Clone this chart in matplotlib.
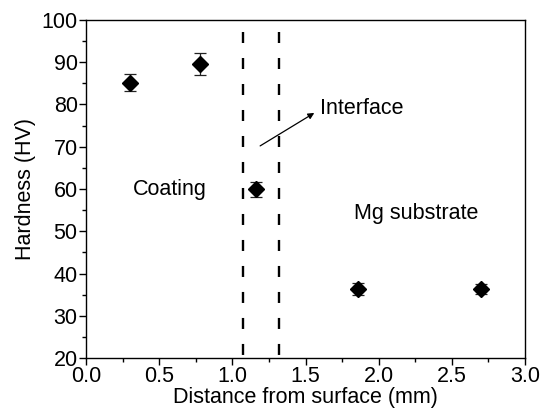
import numpy as np
import matplotlib.pyplot as plt
from matplotlib.ticker import MultipleLocator

plt.rcParams['font.family'] = ['Liberation Sans', 'DejaVu Sans']

# dane z wykresu
odleglosc = [0.30, 0.78, 1.16, 1.86, 2.70]
twardosc = [85.2, 89.6, 59.9, 36.4, 36.3]
blad = [2.1, 2.7, 1.7, 1.4, 1.2]
granice = [1.07, 1.32]

fig = plt.figure(figsize=(5.44, 4.18), dpi=100)
ax = fig.add_axes([86 / 544, 1 - 358 / 418, 439 / 544, 338 / 418])

ax.errorbar(odleglosc, twardosc, yerr=blad, fmt='D', color='black',
            markersize=8, ecolor='#222222', elinewidth=0.9, capsize=4,
            capthick=0.9)

# linie granic (rysowane od gory, zeby kreski zaczynaly sie u gory)
for g in granice:
    ax.plot([g, g], [97.2, 20.5], color='black', linewidth=1.7,
            linestyle=(0, (4.66, 6.35)))

ax.text(0.32, 60, 'Coating', fontsize=15.5, va='center', ha='left')
ax.text(1.83, 54.3, 'Mg substrate', fontsize=15.5, va='center', ha='left')
ax.text(1.60, 79, 'Interface', fontsize=15.5, va='center', ha='left')
ax.annotate('', xy=(1.56, 78.0), xytext=(1.19, 70.2),
            arrowprops=dict(arrowstyle='-|>', color='black', lw=0.9,
                            mutation_scale=9, shrinkA=0, shrinkB=0))

ax.set_xlim(0, 3.0)
ax.set_ylim(20, 100)
ax.xaxis.set_major_locator(MultipleLocator(0.5))
ax.xaxis.set_minor_locator(MultipleLocator(0.25))
ax.yaxis.set_major_locator(MultipleLocator(10))
ax.yaxis.set_minor_locator(MultipleLocator(5))
ax.set_xticks(np.arange(0, 3.01, 0.5))
ax.set_xticklabels(['0.0', '0.5', '1.0', '1.5', '2.0', '2.5', '3.0'])
ax.tick_params(which='major', direction='out', length=5, width=1,
               labelsize=15.5, pad=1)
ax.tick_params(which='minor', direction='out', length=3, width=1)
for s in ax.spines.values():
    s.set_linewidth(1)
ax.set_xlabel('Distance from surface (mm)', fontsize=15.5, labelpad=0)
ax.set_ylabel('Hardness (HV)', fontsize=15.5, labelpad=4)

plt.savefig('out.png', dpi=100)
